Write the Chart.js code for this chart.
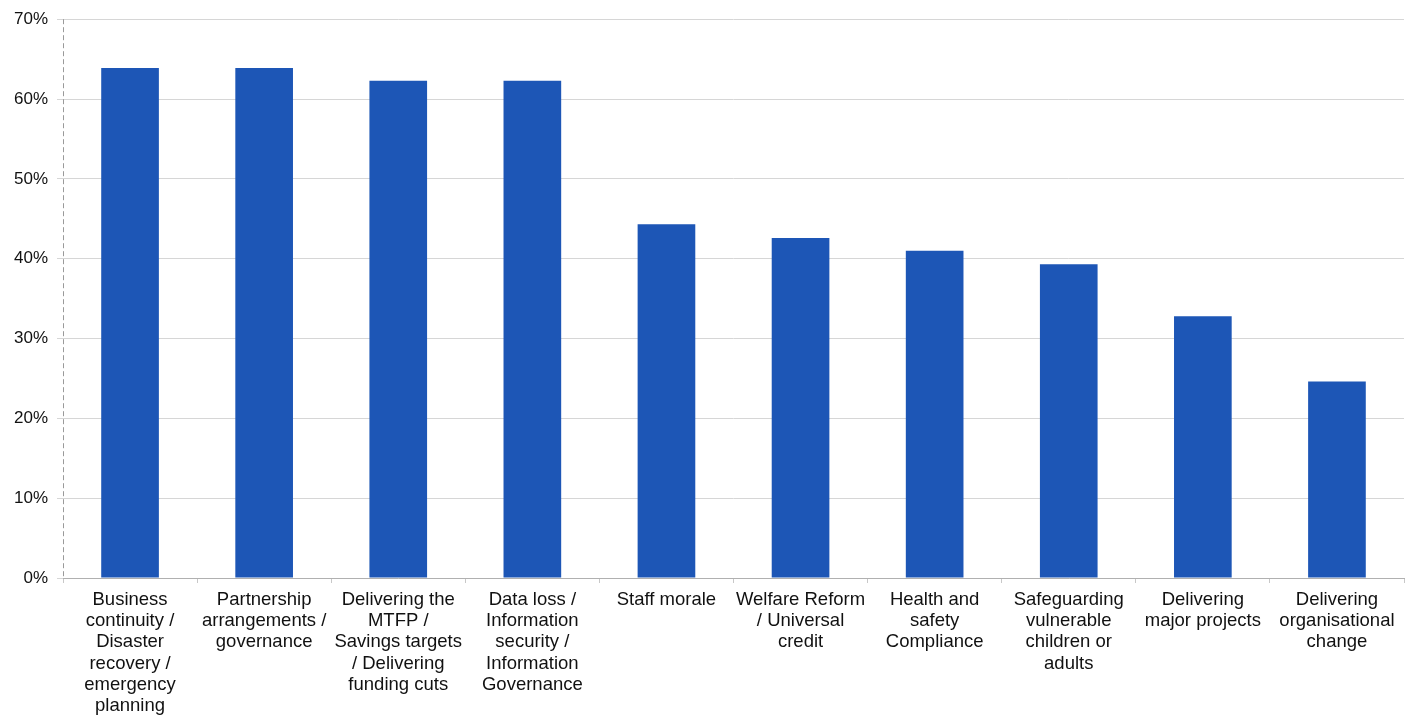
<!DOCTYPE html>
<html>
<head>
<meta charset="utf-8">
<script src="https://cdn.jsdelivr.net/npm/chart.js@4"></script>
<style>
  html, body { margin: 0; padding: 0; background: #fff; }
  #wrap { width: 1412px; height: 717px; }
</style>
</head>
<body>
<div id="wrap"><canvas id="myChart"></canvas></div>
<script>
// categorias (cada una partida en lineas como en la imagen)
const categorias = [
  ['Business', 'continuity /', 'Disaster', 'recovery /', 'emergency', 'planning'],
  ['Partnership', 'arrangements /', 'governance'],
  ['Delivering the', 'MTFP /', 'Savings targets', '/ Delivering', 'funding cuts'],
  ['Data loss /', 'Information', 'security /', 'Information', 'Governance'],
  ['Staff morale'],
  ['Welfare Reform', '/ Universal', 'credit'],
  ['Health and', 'safety', 'Compliance'],
  ['Safeguarding', 'vulnerable', 'children or', 'adults'],
  ['Delivering', 'major projects'],
  ['Delivering', 'organisational', 'change']
];
// porcentajes
const valores = [63.9, 63.9, 62.3, 62.3, 44.3, 42.6, 41.0, 39.3, 32.8, 24.6];
const ticksY = [0, 10, 20, 30, 40, 50, 60, 70];

const fuente = "'Liberation Sans', Arial, sans-serif";

// linea del eje Y punteada
const ejepunteado = {
  id: 'ejePunteado',
  afterDraw(chart) {
    const c = chart.ctx;
    const a = chart.chartArea;
    c.save();
    c.strokeStyle = '#9a9a9a';
    c.lineWidth = 1;
    c.setLineDash([5, 3]);
    c.beginPath();
    c.moveTo(a.left + 0.5, a.top);
    c.lineTo(a.left + 0.5, a.bottom);
    c.stroke();
    c.restore();
  }
};

document.addEventListener('DOMContentLoaded', function() {
  const ctx = document.getElementById('myChart');
  new Chart(ctx, {
    type: 'bar',
    data: {
      labels: categorias,
      datasets: [{
        label: 'Respuestas',
        data: valores,
        backgroundColor: '#1d56b6',
        borderWidth: 0,
        barPercentage: 0.43,
        categoryPercentage: 1.0
      }]
    },
    plugins: [ejepunteado],
    options: {
      responsive: true,
      maintainAspectRatio: false,
      animation: false,
      layout: { padding: { top: 16, right: 8, left: 0, bottom: 0 } },
      plugins: {
        legend: { display: false },
        tooltip: { enabled: false }
      },
      scales: {
        x: {
          grid: {
            display: true,
            drawOnChartArea: false,
            drawTicks: true,
            tickLength: 5,
            color: '#c8c8c8',
            offset: true
          },
          border: { color: '#b0b0b0', width: 1 },
          ticks: {
            autoSkip: false,
            maxRotation: 0,
            minRotation: 0,
            color: '#111',
            padding: 6,
            font: { family: fuente, size: 18.5, lineHeight: 1.15 }
          },
          afterFit: function(scale) { scale.height = 717 - 578; }
        },
        y: {
          min: 0,
          max: 70,
          afterBuildTicks: function(scale) {
            scale.ticks = ticksY.map(v => ({ value: v }));
          },
          grid: {
            color: '#d6d6d6',
            lineWidth: 1,
            drawTicks: true,
            tickLength: 6
          },
          border: { display: false },
          ticks: {
            color: '#111',
            padding: 9,
            font: { family: fuente, size: 17 },
            callback: function(v) { return v + '%'; }
          },
          afterFit: function(scale) { scale.width = 63; }
        }
      }
    }
  });
});
</script>
</body>
</html>
